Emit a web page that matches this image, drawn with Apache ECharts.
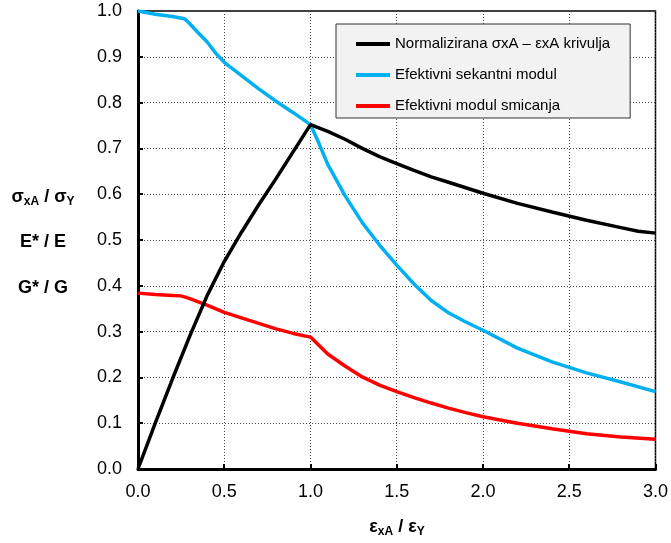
<!DOCTYPE html>
<html>
<head>
<meta charset="utf-8">
<script src="https://cdn.jsdelivr.net/npm/echarts@6/dist/echarts.min.js"></script>
<style>
html,body{margin:0;padding:0;background:#fff;}
#chart{width:671px;height:543px;}
</style>
</head>
<body>
<div id="chart"></div>
<script>
// Normalized stress-strain curve
const stressX = [0, 0.1, 0.2, 0.3, 0.4, 0.5, 0.6, 0.7, 0.8, 0.9, 1.0, 1.1, 1.2, 1.3, 1.4, 1.5, 1.6, 1.7, 1.8, 1.9, 2.0, 2.2, 2.4, 2.6, 2.8, 2.9, 3.0];
const stressY = [0, 0.10, 0.197, 0.29, 0.378, 0.453, 0.517, 0.577, 0.634, 0.693, 0.752, 0.737, 0.72, 0.70, 0.682, 0.667, 0.652, 0.638, 0.626, 0.614, 0.602, 0.58, 0.561, 0.543, 0.527, 0.519, 0.515];
// Effective secant modulus
const secantX = [0, 0.1, 0.2, 0.27, 0.3, 0.35, 0.4, 0.45, 0.5, 0.6, 0.7, 0.8, 0.9, 1.0, 1.05, 1.1, 1.2, 1.3, 1.4, 1.5, 1.6, 1.7, 1.8, 1.9, 2.0, 2.2, 2.4, 2.6, 2.8, 3.0];
const secantY = [1.0, 0.993, 0.988, 0.983, 0.972, 0.952, 0.933, 0.908, 0.888, 0.859, 0.830, 0.803, 0.778, 0.752, 0.71, 0.665, 0.597, 0.538, 0.489, 0.445, 0.404, 0.368, 0.341, 0.321, 0.303, 0.264, 0.234, 0.210, 0.190, 0.169];
// Effective shear modulus
const shearX = [0, 0.1, 0.2, 0.25, 0.3, 0.4, 0.5, 0.6, 0.7, 0.8, 0.9, 1.0, 1.1, 1.2, 1.3, 1.4, 1.5, 1.6, 1.7, 1.8, 1.9, 2.0, 2.2, 2.4, 2.6, 2.8, 3.0];
const shearY = [0.384, 0.381, 0.379, 0.378, 0.372, 0.358, 0.342, 0.330, 0.318, 0.306, 0.296, 0.288, 0.251, 0.225, 0.201, 0.183, 0.169, 0.156, 0.144, 0.133, 0.123, 0.114, 0.100, 0.088, 0.077, 0.070, 0.065];

const seriesNames = ['Normalizirana σxA – εxA krivulja', 'Efektivni sekantni modul', 'Efektivni modul smicanja'];
const seriesColors = ['#000000', '#00b0f0', '#ff0000'];

function pairs(xs, ys) { return xs.map((x, i) => [x, ys[i]]); }

const FONT = "'Liberation Sans', Arial, sans-serif";
const chart = echarts.init(document.getElementById('chart'), null, {renderer: 'canvas'});

const richTitle = {
  b: {fontFamily: FONT, fontSize: 18, fontWeight: 'bold', fill: '#000', lineHeight: 22, verticalAlign: 'middle'},
  s: {fontFamily: FONT, fontSize: 12, fontWeight: 'bold', fill: '#000', lineHeight: 22, verticalAlign: 'bottom', padding: [8, 0, 0, 0]}
};

chart.setOption({
  animation: false,
  backgroundColor: '#ffffff',
  grid: {left: 138, top: 11, width: 518, height: 458, show: true, borderColor: '#000', borderWidth: 1.5, backgroundColor: 'transparent'},
  legend: {
    orient: 'vertical', left: 336, top: 24,
    backgroundColor: '#f2f2f2', borderColor: '#333', borderWidth: 1,
    padding: [12, 20, 4, 20], itemGap: 15,
    itemWidth: 34, itemHeight: 4, icon: 'rect',
    textStyle: {fontFamily: FONT, fontSize: 15, color: '#000', lineHeight: 16},
    data: seriesNames
  },
  xAxis: {
    type: 'value', min: 0, max: 3, interval: 0.5,
    axisLine: {show: true, lineStyle: {color: '#000', width: 3}},
    axisTick: {show: true, inside: true, length: 5, lineStyle: {color: '#000', width: 2}},
    axisLabel: {fontFamily: FONT, fontSize: 18, color: '#000', margin: 14, formatter: v => v.toFixed(1)},
    splitLine: {show: true, lineStyle: {color: '#444', type: [1, 2], width: 1}}
  },
  yAxis: {
    type: 'value', min: 0, max: 1, interval: 0.1,
    axisLine: {show: true, lineStyle: {color: '#000', width: 3}},
    axisTick: {show: true, inside: true, length: 5, lineStyle: {color: '#000', width: 2}},
    axisLabel: {fontFamily: FONT, fontSize: 18, color: '#000', margin: 16, formatter: v => v.toFixed(1)},
    splitLine: {show: true, lineStyle: {color: '#444', type: [1, 2], width: 1}}
  },
  graphic: [
    {type: 'text', x: 43, y: 197, style: {text: '{b|σ}{s|xA}{b| / σ}{s|Y}', rich: richTitle, align: 'center', verticalAlign: 'middle'}},
    {type: 'text', x: 43, y: 242, style: {text: 'E* / E', font: 'bold 18px ' + FONT, fill: '#000', align: 'center', verticalAlign: 'middle'}},
    {type: 'text', x: 43, y: 288, style: {text: 'G* / G', font: 'bold 18px ' + FONT, fill: '#000', align: 'center', verticalAlign: 'middle'}},
    {type: 'text', x: 397, y: 527, style: {text: '{b|ε}{s|xA}{b| / ε}{s|Y}', rich: richTitle, align: 'center', verticalAlign: 'middle'}}
  ],
  series: [
    {name: seriesNames[0], type: 'line', data: pairs(stressX, stressY), showSymbol: false, symbol: 'none', lineStyle: {color: seriesColors[0], width: 3.5}, itemStyle: {color: seriesColors[0]}, z: 3},
    {name: seriesNames[1], type: 'line', data: pairs(secantX, secantY), showSymbol: false, symbol: 'none', lineStyle: {color: seriesColors[1], width: 3.5}, itemStyle: {color: seriesColors[1]}, z: 2},
    {name: seriesNames[2], type: 'line', data: pairs(shearX, shearY), showSymbol: false, symbol: 'none', lineStyle: {color: seriesColors[2], width: 3.5}, itemStyle: {color: seriesColors[2]}, z: 2}
  ]
});
</script>
</body>
</html>
